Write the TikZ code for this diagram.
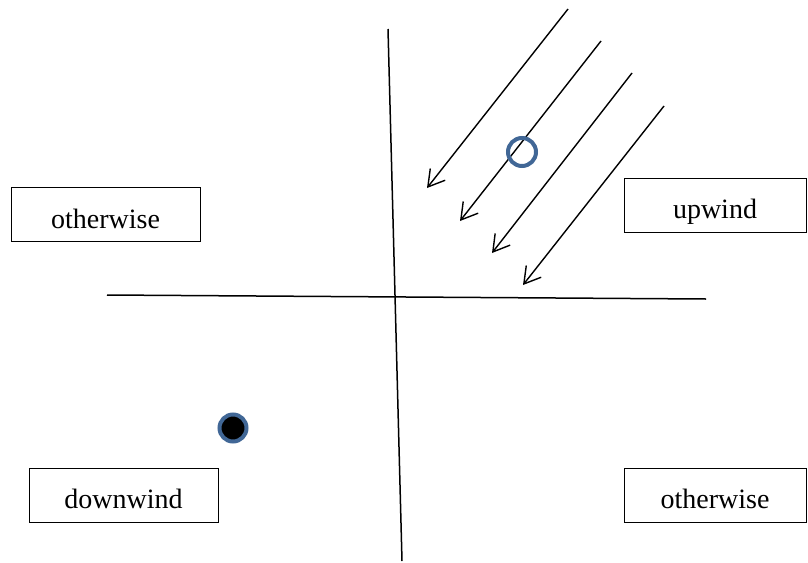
\documentclass[tikz,border=0pt]{standalone}
\usepackage{fontspec}
\setmainfont{Liberation Serif}
\usetikzlibrary{arrows.meta}
\definecolor{ringblue}{RGB}{65,103,150}
\begin{document}
\begin{tikzpicture}[x=1pt,y=-1pt,
  labelbox/.style={draw, line width=1pt, minimum width=#1, minimum height=54pt, inner sep=0pt, text height=27pt, text depth=0pt, font=\fontsize{28}{30}\selectfont},
  axis/.style={line width=1.5pt},
  wind/.style={line width=1.4pt, -{Straight Barb[length=16pt,width=19pt,line width=1.4pt]}}]
\useasboundingbox (0,0) rectangle (808,562);
% axes
\coordinate (vt) at (388,29);
\coordinate (vb) at (402,561);
\coordinate (hl) at (107,295);
\coordinate (hr) at (706,299);
\draw[axis] (vt) -- (vb);
\draw[axis] (hl) -- (hr);
% wind arrows
\coordinate (a1s) at (568,9);   \coordinate (a1e) at (427,188);
\coordinate (a2s) at (601,41);  \coordinate (a2e) at (460,221);
\coordinate (a3s) at (632,73);  \coordinate (a3e) at (492,253);
\coordinate (a4s) at (664,106); \coordinate (a4e) at (523,285);
\draw[wind] (a1s) -- (a1e);
\draw[wind] (a2s) -- (a2e);
\draw[wind] (a3s) -- (a3e);
\draw[wind] (a4s) -- (a4e);
% markers
\node (ring) [circle, draw=ringblue, line width=4pt, minimum size=28pt, inner sep=0pt] at (522,152) {};
\node (dot) [circle, draw=ringblue, fill=black, line width=4pt, minimum size=27pt, inner sep=0pt] at (233,428) {};
% labels
\node (ow1) [labelbox=189pt] at (105.5,214.5) {otherwise};
\node (up) [labelbox=182pt] at (715,205) {upwind};
\node (down) [labelbox=189pt] at (123.5,495) {downwind};
\node (ow2) [labelbox=182pt] at (715,495) {otherwise};
\end{tikzpicture}
\end{document}
